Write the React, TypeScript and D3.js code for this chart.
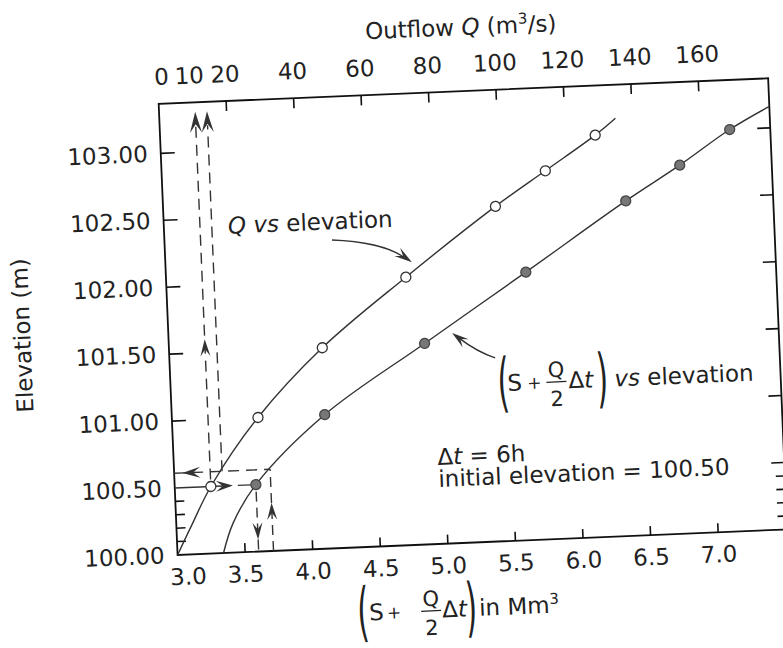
import * as d3 from "d3";

// points marked on the two curves
const elevation = [100.5, 101.0, 101.5, 102.0, 102.5, 102.75, 103.0];
const outflowQ = [10.7, 25.5, 45.4, 71.0, 98.4, 113.6, 128.8];
const storageS = [3.6, 4.13, 4.89, 5.66, 6.42, 6.83, 7.21];

// unmarked stretches of the drawn curves, [value, elevation]
const qCurveHead = [[0, 100.0], [4.6, 100.22]];
const qCurveTail = [[135, 103.12]];
const sCurveHead = [[3.34, 100.0], [3.42, 100.22]];
const sCurveTail = [[7.51, 103.16]];

// axes
const qTickLabels = [0, 10, 20, 40, 60, 80, 100, 120, 140, 160];
const qTickMarks = [20, 40, 60, 80, 100, 120, 140, 160];
const sTicks = [3.0, 3.5, 4.0, 4.5, 5.0, 5.5, 6.0, 6.5, 7.0];
const elevTicks = [100.0, 100.5, 101.0, 101.5, 102.0, 102.5, 103.0];
const elevMinor = [100.1, 100.2, 100.3, 100.4];

// first routing step (dashed construction lines)
const initElev = 100.5;
const nextElev = 100.61;
const nextS = 3.71;
const nextQ = 14.2;

// annotation anchors [x value, elevation]
const qNote = [19.0, 102.38];
const qArrow = [[49.6, 102.3], [64.7, 102.27], [73, 102.11]];
const sNote = [5.46, 101.12];
const sArrow = [[5.407, 101.37], [5.276, 101.42], [5.097, 101.57]];
const dtNote = [4.95, 100.59];

const FONT = "'DejaVu Sans', sans-serif";
const INK = "#222";

function Head({ x, y, angle, len = 14, wid = 8 }: { x: number; y: number; angle: number; len?: number; wid?: number }) {
  return (
    <path
      d={`M0,0L${-len},${-wid / 2}L${-len * 0.6},0L${-len},${wid / 2}Z`}
      transform={`translate(${x},${y}) rotate(${angle})`}
      fill="#333"
    />
  );
}

function Paren({ ch, cx, cy }: { ch: string; cx: number; cy: number }) {
  // tall bracket: a normal glyph stretched vertically
  return (
    <text transform={`translate(${cx},${cy}) scale(1.3,2.8)`} y={7.2} textAnchor="middle" fontSize={23} fill={INK}>
      {ch}
    </text>
  );
}

function Fraction({ cx, bar, w = 20 }: { cx: number; bar: number; w?: number }) {
  return (
    <g fill={INK}>
      <text x={cx} y={bar - 5} textAnchor="middle" fontSize={21}>Q</text>
      <line x1={cx - w / 2} x2={cx + w / 2} y1={bar} y2={bar} stroke={INK} strokeWidth={1.3} />
      <text x={cx} y={bar + 24} textAnchor="middle" fontSize={21}>2</text>
    </g>
  );
}

export default function App() {
  const W = 783, H = 648;
  const left = 168, right = 778, top = 91, bottom = 542.5;

  const x = d3.scaleLinear().domain([3.0, 7.51]).range([left, right]);
  const xq = d3.scaleLinear().domain([0, 180.7]).range([left, right]);
  const y = d3.scaleLinear().domain([100, 103.37]).range([bottom, top]);

  const curve = d3.curveCatmullRom.alpha(0.5);
  const qPts = [...qCurveHead, ...outflowQ.map((q, i) => [q, elevation[i]]), ...qCurveTail];
  const sPts = [...sCurveHead, ...storageS.map((s, i) => [s, elevation[i]]), ...sCurveTail];
  const qPath = d3.line<number[]>().x(d => xq(d[0])).y(d => y(d[1])).curve(curve)(qPts) || "";
  const sPath = d3.line<number[]>().x(d => x(d[0])).y(d => y(d[1])).curve(curve)(sPts) || "";

  const dash = "11 7";
  const r = 5;
  const xA = xq(outflowQ[0]);
  const xB = xq(nextQ);
  const yTip = y(103.3);
  const yInit = y(initElev);
  const yNext = y(nextElev);
  const xS0 = x(storageS[0]);
  const xS1 = x(nextS);

  const ang = (p: number[], q: number[]) => (Math.atan2(q[1] - p[1], q[0] - p[0]) * 180) / Math.PI;
  const qa = qArrow.map(([q, e]) => [xq(q), y(e)]);
  const sa = sArrow.map(([s, e]) => [x(s), y(e)]);

  const sx = x(sNote[0]), sb = y(sNote[1]);
  const bx = 351, bb = bottom + 73.5;
  const dx = x(dtNote[0]), db = y(dtNote[1]);
  const fmt2 = d3.format(".2f");
  const fmt1 = d3.format(".1f");

  return (
    <svg width={W} height={H} style={{ position: "absolute", left: 0, top: 0, background: "#fff" }} fontFamily={FONT}>
      <rect width={W} height={H} fill="#fff" />
      <g transform="rotate(-2.4 470 320)">
        {/* titles */}
        <text x={(left + right) / 2} y={35} textAnchor="middle" fontSize={23} fill={INK}>
          Outflow <tspan fontStyle="italic">Q</tspan> (m<tspan dy={-9} fontSize={15}>3</tspan>
          <tspan dy={9}>/s)</tspan>
        </text>
        <text transform={`translate(30,${(top + bottom) / 2}) rotate(-90)`} textAnchor="middle" fontSize={23} fill={INK}>
          Elevation (m)
        </text>

        {/* frame */}
        <rect x={left} y={top} width={right - left} height={bottom - top} fill="none" stroke="#111" strokeWidth={1.8} />

        {/* ticks */}
        <g stroke="#111" strokeWidth={1.6}>
          {qTickMarks.map(v => (
            <line key={"qt" + v} x1={xq(v)} x2={xq(v)} y1={top} y2={top + 10} />
          ))}
          {sTicks.filter(v => v > 3).map(v => (
            <line key={"st" + v} x1={x(v)} x2={x(v)} y1={bottom} y2={bottom - 9} />
          ))}
          {elevTicks.filter(v => v > 100).map(v => (
            <g key={"et" + v}>
              {v !== initElev && <line x1={left} x2={left + 14} y1={y(v)} y2={y(v)} />}
              <line x1={right} x2={right - 13} y1={y(v)} y2={y(v)} />
            </g>
          ))}
          {elevMinor.map(v => (
            <g key={"em" + v}>
              <line x1={left} x2={left + 9} y1={y(v)} y2={y(v)} />
              <line x1={right} x2={right - 9} y1={y(v)} y2={y(v)} />
            </g>
          ))}
        </g>

        {/* tick labels */}
        <g fontSize={23} fill={INK}>
          {qTickLabels.map(v => (
            <text key={"ql" + v} x={xq(v) + (v === 0 ? 4 : v === 10 ? -2 : 0)} y={top - 19} textAnchor="middle">
              {v}
            </text>
          ))}
          {sTicks.map(v => (
            <text key={"sl" + v} x={x(v) + (v === 3 ? 10 : 0)} y={bottom + 30} textAnchor="middle">
              {fmt1(v)}
            </text>
          ))}
          {elevTicks.map(v => (
            <text key={"el" + v} x={left - 13} y={y(v) + 8} textAnchor="end">
              {fmt2(v)}
            </text>
          ))}
        </g>

        {/* routing construction */}
        <g stroke="#333" strokeWidth={1.4} fill="none">
          <line x1={xA} x2={xA} y1={yInit - r - 2} y2={yTip + 14} strokeDasharray={dash} />
          <line x1={xB} x2={xB} y1={yNext} y2={yTip + 14} strokeDasharray={dash} />
          <line x1={left} x2={xS1} y1={yNext} y2={yNext} strokeDasharray={dash} />
          <line x1={left} x2={xA - r} y1={yInit} y2={yInit} />
          <line x1={xA + r} x2={xS0 - r} y1={yInit} y2={yInit} strokeDasharray="14 8" />
          <line x1={xS0} x2={xS0} y1={yInit + r + 2} y2={bottom} strokeDasharray="10 6" />
          <line x1={xS1} x2={xS1} y1={bottom} y2={yNext} strokeDasharray="10 6" />
        </g>
        <Head x={xA} y={yTip} angle={-90} len={21} wid={12} />
        <Head x={xB} y={yTip} angle={-90} len={21} wid={12} />
        <Head x={xA} y={y(101.6)} angle={-90} len={17} wid={10} />
        <Head x={x(3.06)} y={yNext} angle={180} len={18} wid={11} />
        <Head x={x(3.43)} y={yInit} angle={0} len={17} wid={11} />
        <Head x={xS0} y={y(100.09)} angle={90} len={17} wid={10} />
        <Head x={xS1} y={y(100.36)} angle={-90} len={17} wid={10} />

        {/* curves */}
        <path d={qPath} fill="none" stroke="#333" strokeWidth={1.4} />
        <path d={sPath} fill="none" stroke="#333" strokeWidth={1.4} />
        {outflowQ.map((q, i) => (
          <circle key={"qc" + i} cx={xq(q)} cy={y(elevation[i])} r={r} fill="#fff" stroke="#333" strokeWidth={1.3} />
        ))}
        {storageS.map((s, i) => (
          <circle key={"sc" + i} cx={x(s)} cy={y(elevation[i])} r={r} fill="#777" stroke="#444" strokeWidth={1.3} />
        ))}

        {/* Q vs elevation note */}
        <text x={xq(qNote[0])} y={y(qNote[1])} fontSize={23} fill={INK}>
          <tspan fontStyle="italic">Q vs</tspan> elevation
        </text>
        <path d={`M${qa[0][0]},${qa[0][1]}Q${qa[1][0]},${qa[1][1]} ${qa[2][0] - 6},${qa[2][1] - 4}`} fill="none" stroke="#333" strokeWidth={1.4} />
        <Head x={qa[2][0]} y={qa[2][1]} angle={ang(qa[1], qa[2])} len={18} wid={10} />

        {/* (S + Q/2 dt) vs elevation note */}
        <path d={`M${sa[0][0]},${sa[0][1]}Q${sa[1][0]},${sa[1][1]} ${sa[2][0] + 6},${sa[2][1] + 5}`} fill="none" stroke="#333" strokeWidth={1.4} />
        <Head x={sa[2][0]} y={sa[2][1]} angle={ang(sa[1], sa[2])} len={17} wid={10} />
        <Paren ch="(" cx={sx} cy={sb - 7} />
        <text x={sx + 4} y={sb} fontSize={23} fill={INK}>S</text>
        <text x={sx + 31} y={sb - 1} textAnchor="middle" fontSize={17} fill={INK}>+</text>
        <Fraction cx={sx + 53} bar={sb - 7} />
        <text x={sx + 65} y={sb} fontSize={23} fill={INK}>
          Δ<tspan fontStyle="italic">t</tspan>
        </text>
        <Paren ch=")" cx={sx + 99} cy={sb - 7} />
        <text x={sx + 111} y={sb} fontSize={23} fill={INK}>
          <tspan fontStyle="italic">vs</tspan> elevation
        </text>

        {/* step note */}
        <text x={dx} y={db} fontSize={23} fill={INK}>
          Δ<tspan fontStyle="italic">t</tspan> = 6h
        </text>
        <text x={dx} y={db + 22} fontSize={23} fill={INK}>
          initial elevation = 100.50
        </text>

        {/* bottom axis title */}
        <Paren ch="(" cx={bx} cy={bb - 7} />
        <text x={bx + 6} y={bb} fontSize={23} fill={INK}>S</text>
        <text x={bx + 31} y={bb - 1} textAnchor="middle" fontSize={17} fill={INK}>+</text>
        <Fraction cx={bx + 68} bar={bb - 7} />
        <text x={bx + 79} y={bb} fontSize={23} fill={INK}>
          Δ<tspan fontStyle="italic">t</tspan>
        </text>
        <Paren ch=")" cx={bx + 108} cy={bb - 7} />
        <text x={bx + 116} y={bb} fontSize={23} fill={INK}>
          in Mm<tspan dy={-9} fontSize={15}>3</tspan>
        </text>
      </g>
    </svg>
  );
}
